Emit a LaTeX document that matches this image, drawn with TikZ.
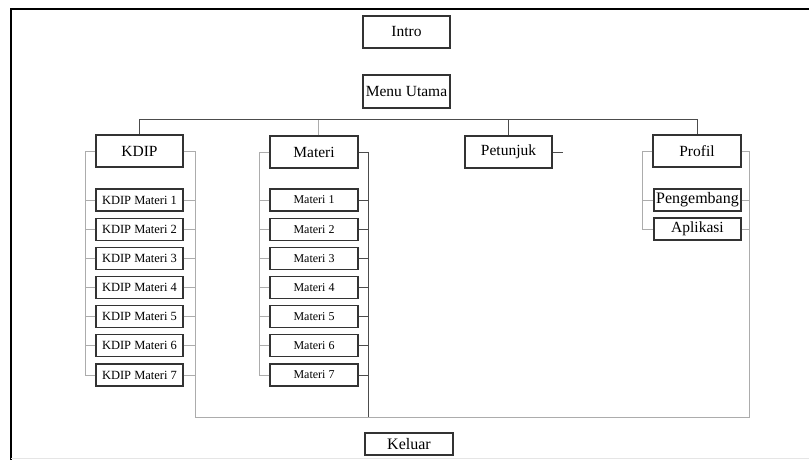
\documentclass[tikz,border=0pt]{standalone}
\usepackage{fontspec}
\setmainfont{Liberation Serif}
\begin{document}
\begin{tikzpicture}[x=1pt, y=-1pt,
  menubox/.style = {draw=black!80, line width=1.1pt, fill=white, minimum width=87pt, inner sep=0pt, font=\fontsize{15.5}{17}\selectfont},
  subbox/.style = {menubox, minimum height=22pt, font=\fontsize{12.5}{14}\selectfont},
  railline/.style = {draw=gray!65, line width=0.8pt},
  darkline/.style = {draw=black!70, line width=1pt}
]
  % bingkai
  \useasboundingbox (0,0) rectangle (809,460);
  \draw[line width=2pt] (11,460) -- (11,9) -- (809,9);
  \draw[gray!20, line width=1pt] (11,458) -- (809,458);
  % menu utama
  \node[menubox, minimum height=32pt] (intro) at (406.5,32) {Intro};
  \node[menubox, minimum height=33pt] (menu) at (406.5,91.5) {Menu Utama};
  \node[menubox, minimum height=32pt] (kdip) at (139.5,151) {KDIP};
  \node[menubox, minimum height=32pt, minimum width=88pt] (materi) at (314,152) {Materi};
  \node[menubox, minimum height=32pt] (petunjuk) at (508.5,152) {Petunjuk};
  \node[menubox, minimum height=32pt, minimum width=88pt] (profil) at (697,151) {Profil};
  \node[menubox, minimum height=22pt, minimum width=88pt, font=\fontsize{16}{18}\selectfont] (keluar) at (409,444) {Keluar};
  % sub menu
  \foreach \i in {1,...,7} {
    \node[subbox] (kdip\i) at (139.5,{200+29.17*(\i-1)}) {KDIP Materi \i};
    \node[subbox, minimum width=88pt, font=\fontsize{12}{14}\selectfont] (materi\i) at (314,{200+29.17*(\i-1)}) {Materi \i};
  }
  \node[subbox, font=\fontsize{16}{18}\selectfont] (pengembang) at (697.5,200) {Pengembang};
  \node[subbox, font=\fontsize{15.5}{17}\selectfont] (aplikasi) at (697.5,229) {Aplikasi};
  % garis penghubung
  \coordinate (bus) at (0,119.5);
  \coordinate (kdipL) at (85,0);
  \coordinate (kdipR) at (195,417);
  \coordinate (materiL) at (259,0);
  \coordinate (materiR) at (368.5,417);
  \coordinate (profilL) at (642,0);
  \coordinate (profilR) at (749,417);
  \coordinate (petunjukR) at (563,152);
  \draw[darkline] (kdip.north) -- (kdip.north |- bus) -- (profil.north |- bus) -- (profil.north);
  \draw[railline] ([xshift=4pt]materi.north) -- ([xshift=4pt]materi.north |- bus);
  \draw[darkline] (petunjuk.north) -- (petunjuk.north |- bus);
  \draw[darkline] (petunjuk.east) -- (petunjukR);
  \draw[railline] (kdip.west) -| (kdipL |- kdip7.west) -- (kdip7.west);
  \draw[railline] (kdip.east) -| (kdipR) -- (profilR) |- (profil.east);
  \draw[railline] (materi.west) -| (materiL |- materi7.west) -- (materi7.west);
  \draw[darkline] (materi.east) -| (materiR);
  \draw[railline] (profil.west) -| (profilL |- aplikasi.west) -- (aplikasi.west);
  \foreach \i in {1,...,7} {
    \draw[railline] (kdip\i.west) -- (kdipL |- kdip\i.west);
    \draw[railline] (kdip\i.east) -- (kdipR |- kdip\i.east);
    \draw[railline] (materi\i.west) -- (materiL |- materi\i.west);
    \draw[darkline] (materi\i.east) -- (materiR |- materi\i.east);
  }
  \draw[railline] (pengembang.west) -- (profilL |- pengembang.west);
  \draw[railline] (pengembang.east) -- (profilR |- pengembang.east);
  \draw[railline] (aplikasi.east) -- (profilR |- aplikasi.east);
\end{tikzpicture}
\end{document}
